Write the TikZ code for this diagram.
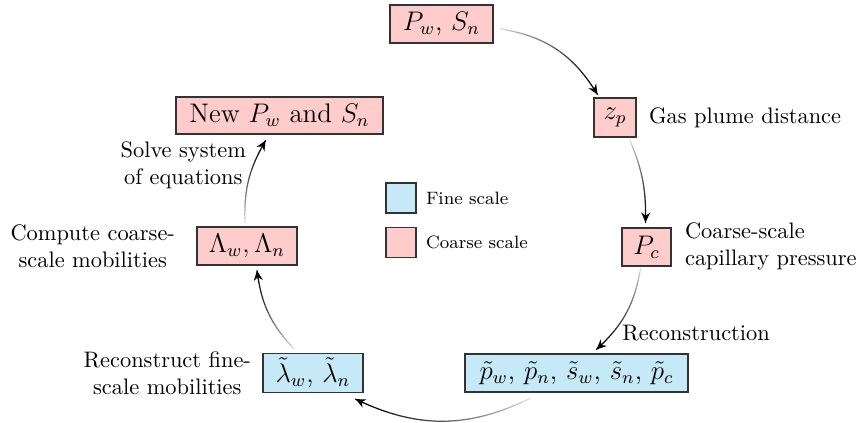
\documentclass[tikz,border=0pt]{standalone}
\usetikzlibrary{calc,arrows.meta}
\definecolor{coarse}{RGB}{255,204,204}
\definecolor{fine}{RGB}{198,233,248}
\newcommand{\pxu}{0.4464pt}
\tikzset{
  box/.style={draw=black!80, line width=0.55pt, minimum height={38*\pxu}, inner sep=2pt, font=\large},
  coarsebox/.style={box, fill=coarse},
  finebox/.style={box, fill=fine},
  lbl/.style={font=\normalsize, inner sep=0pt},
  legbox/.style={draw=black!80, line width=0.55pt, minimum width={30*\pxu}, minimum height={30*\pxu}, inner sep=0pt},
  legtext/.style={font=\footnotesize, inner sep=0pt, anchor=west},
  tipstyle/.style={line width=0.55pt, line cap=butt, dash pattern=on 0pt off 4000pt, -{Stealth[length=4.4pt,width=4pt]}},
}
\newcommand{\gradarrow}[3]{%
  \coordinate (ga-a) at #1;
  \coordinate (ga-b) at #2;
  \coordinate (ga-c1) at ($(ga-a)!0.3915!#3:(ga-b)$);
  \coordinate (ga-c2) at ($(ga-b)!0.3915!-#3:(ga-a)$);
  \foreach \k [evaluate=\k as \tk using \k/24] in {0,...,24}{
    \path (ga-a) .. controls (ga-c1) and (ga-c2) .. (ga-b) coordinate[pos=\tk] (gp\k);
  }
  \foreach \k [evaluate=\k as \kp using int(\k-1), evaluate=\k as \sh using 5+95*(\k/24)^0.7] in {1,...,24}{
    \draw[line width=0.55pt, line cap=round, draw=black!\sh] (gp\kp) -- (gp\k);
  }
  \draw[tipstyle] (ga-a) .. controls (ga-c1) and (ga-c2) .. (ga-b);
}
\begin{document}
\begin{tikzpicture}[x=\pxu, y=-\pxu]
\useasboundingbox (0,0) rectangle (860,423);
% boxes
\node[coarsebox, minimum width={103*\pxu}] (pw) at (441.5,24) {$P_w$, $S_n$};
\node[coarsebox, minimum width={42*\pxu}, minimum height={39*\pxu}] (zp) at (615,117.5) {$z_p$};
\node[coarsebox, minimum width={49*\pxu}] (pc) at (646.5,247) {$P_c$};
\node[finebox, minimum width={223*\pxu}] (tp) at (576.5,373) {$\tilde{p}_w$, $\tilde{p}_n$, $\tilde{s}_w$, $\tilde{s}_n$, $\tilde{p}_c$};
\node[finebox, minimum width={100*\pxu}] (tl) at (313,373) {$\tilde{\lambda}_w$, $\tilde{\lambda}_n$};
\node[coarsebox, minimum width={100*\pxu}] (lam) at (247,246) {$\Lambda_w, \Lambda_n$};
\node[coarsebox, minimum width={207*\pxu}, minimum height={37*\pxu}] (new) at (279.5,115.5) {New $P_w$ and $S_n$};
% legend
\node[legbox, fill=fine] (lf) at (401,198) {};
\node[legbox, fill=coarse] (lc) at (401,242.5) {};
\node[legtext] (lft) at ($(lf.east)+(9,0)$) {Fine scale};
\node[legtext] (lct) at ($(lc.east)+(9,0)$) {Coarse scale};
% labels
\node[lbl, anchor=west] (gas) at ($(zp.east)+(12,0)$) {Gas plume distance};
\node[lbl, anchor=west, align=left] (cap) at ($(pc.east)+(13,-1)$) {Coarse-scale\\capillary pressure};
\node[lbl, anchor=west] (rec) at ($(tp.north)+(45.5,-20)$) {Reconstruction};
\node[lbl, anchor=east, align=center] (rfs) at ($(tl.west)+(-11,0)$) {Reconstruct fine-\\scale mobilities};
\node[lbl, anchor=east, align=center] (ccm) at ($(lam.west)+(-21,0)$) {Compute coarse-\\scale mobilities};
\node[lbl, anchor=east, align=center] (sse) at ($(new.south west)+(71,31)$) {Solve system\\of equations};
% arrows
\gradarrow{($(pw.east)+(7,5)$)}{($(zp.north west)+(4,-3)$)}{25}
\gradarrow{($(zp.south)+(15,3)$)}{($(pc.north)+(-1,-5)$)}{12}
\gradarrow{($(pc.south)+(-6,2)$)}{($(tp.north)+(20,-4)$)}{19}
\gradarrow{($(tp.south west)+(65,6)$)}{($(tl.south east)+(-8,6)$)}{26}
\gradarrow{($(tl.north)+(-19,-4)$)}{($(lam.south)+(10,5)$)}{18}
\gradarrow{($(lam.north)+(-2,-4)$)}{($(new.south)+(-14,6)$)}{16}
\end{tikzpicture}
\end{document}
